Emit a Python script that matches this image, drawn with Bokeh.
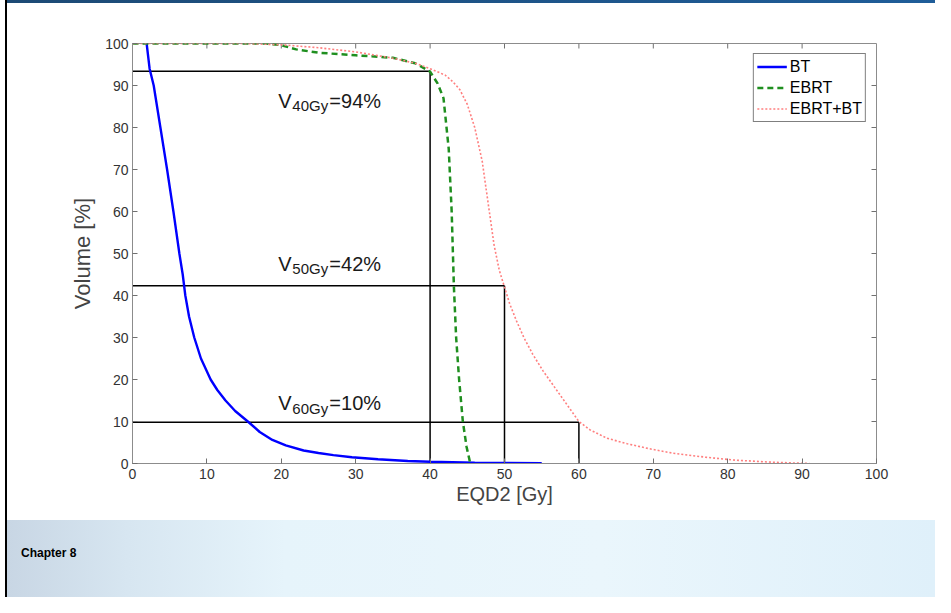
import numpy as np
from bokeh.plotting import figure
from bokeh.models import Range1d, FixedTicker, Legend, LegendItem, ColumnDataSource, Div
from bokeh.layouts import column, row
from bokeh.core.properties import value
from bokeh.embed import file_html
from bokeh.resources import INLINE

# ---- data ----
bt_dose = [1.9, 2.3, 2.85, 3.75, 4.65, 5.5, 6.3, 6.75, 7.1, 7.6, 8.3, 9.2, 10.5, 11.4, 12.5, 13.8, 15.5, 17.1, 18.8, 20.6, 23.0, 25.0, 27.0, 29.5, 33.0, 37.0, 40.0, 46.0, 55.0]
bt_vol = [100, 94, 90, 80, 70, 60, 50, 45, 40, 35, 30, 25, 20, 17.5, 15, 12.5, 10, 7.5, 5.6, 4.3, 3.1, 2.5, 2.0, 1.5, 1.0, 0.6, 0.4, 0.2, 0.1]

ebrt_dose = [0, 10, 18, 20, 22, 25, 30, 35, 38, 40, 41, 41.8, 42.5, 42.9, 43.2, 43.5, 43.9, 44.4, 44.9, 45.4]
ebrt_vol = [100, 100, 100, 99.6, 98.6, 97.8, 97.2, 96.6, 95.3, 93.3, 90.5, 87, 75, 60, 42, 30, 20, 10, 4, 0]

sum_dose = [0, 15, 20, 25, 30, 35, 38, 40, 42, 43, 44, 45, 46, 47, 47.8, 48.6, 49.3, 50, 50.7, 51.6, 52.6, 53.8, 55.2, 56.8, 58.4, 60.0, 61.5, 63.8, 66.5, 69.5, 72.5, 77, 81, 86, 91]
sum_vol = [100, 100, 99.7, 99, 98, 96.5, 95.3, 94, 92.5, 91, 89, 85.5, 80, 72, 62, 52, 46, 42, 38, 34, 30, 26, 22, 18, 14, 10, 8, 6, 4.7, 3.5, 2.5, 1.5, 0.8, 0.3, 0]

ref_dose = [40, 50, 60]
ref_vol = [93.4, 42.3, 9.8]
ref_pct = [94, 42, 10]

x_ticks = list(range(0, 101, 10))
y_ticks = list(range(0, 101, 10))

FONT = "Liberation Sans"

p = figure(width=928, height=517, x_range=Range1d(0, 100), y_range=Range1d(0, 100),
           output_backend="svg", toolbar_location=None,
           min_border_left=125, min_border_right=59, min_border_top=40, min_border_bottom=57)
p.grid.visible = False
p.outline_line_color = "#8c8c8c"
p.background_fill_color = "white"
p.border_fill_color = "white"

for ax in (p.xaxis[0], p.yaxis[0]):
    ax.major_tick_in = 5
    ax.major_tick_out = 0
    ax.minor_tick_line_color = None
    ax.axis_line_color = "#8c8c8c"
    ax.major_tick_line_color = "#707070"
    ax.major_label_text_font = FONT
    ax.major_label_text_font_size = "14px"
    ax.major_label_text_color = "#333333"
    ax.axis_label_text_font = FONT
    ax.axis_label_text_font_style = "normal"
    ax.axis_label_text_color = "#444444"

p.xaxis[0].ticker = FixedTicker(ticks=x_ticks)
p.yaxis[0].ticker = FixedTicker(ticks=y_ticks)
p.xaxis[0].axis_label = "EQD2 [Gy]"
p.yaxis[0].axis_label = "Volume [%]"
p.xaxis[0].axis_label_text_font_size = "20px"
p.yaxis[0].axis_label_text_font_size = "22px"
p.xaxis[0].major_label_standoff = 5
p.yaxis[0].major_label_standoff = 4
p.xaxis[0].axis_label_standoff = 1
p.yaxis[0].axis_label_standoff = 7

# inward ticks on the top and right edges of the box
inner_x = x_ticks[1:-1]
inner_y = y_ticks[1:-1]
p.ray(x=inner_x, y=[x_ticks[-1]] * len(inner_x), length=5, length_units="screen",
      angle=-np.pi / 2, line_color="#707070", line_width=1)
p.ray(x=[y_ticks[-1]] * len(inner_y), y=inner_y, length=5, length_units="screen",
      angle=np.pi, line_color="#707070", line_width=1)

# reference lines
p.segment(x0=[0] * len(ref_dose), y0=ref_vol, x1=ref_dose, y1=ref_vol, line_color="black", line_width=1.5)
p.segment(x0=ref_dose, y0=[0] * len(ref_dose), x1=ref_dose, y1=ref_vol, line_color="black", line_width=1.5)

r_bt = p.line(bt_dose, bt_vol, line_color="#0000ff", line_width=2.4)
r_ebrt = p.line(ebrt_dose, ebrt_vol, line_color="#1f8f1f", line_width=2.5, line_dash="6 4")
r_sum = p.line(sum_dose, sum_vol, line_color="#ff7f7f", line_width=1.6, line_dash="2 2")

# annotations V_xGy = y%
lab_x = [19.6, 19.6, 19.6]
lab_y = [86.4, 47.6, 14.4]
src = ColumnDataSource(dict(
    x=lab_x, y=lab_y,
    v=["V"] * 3,
    sub=[f"{d}Gy" for d in ref_dose],
    rest=[f"={v}%" for v in ref_pct],
))
p.text(x="x", y="y", text="v", source=src, text_font=value(FONT), text_font_size="20px",
       text_color="#1a1a1a", text_baseline="alphabetic", text_align="left")
p.text(x="x", y="y", text="sub", source=src, text_font=value(FONT), text_font_size="15px",
       text_color="#1a1a1a", text_baseline="alphabetic", text_align="left", x_offset=14, y_offset=5)
p.text(x="x", y="y", text="rest", source=src, text_font=value(FONT), text_font_size="20px",
       text_color="#1a1a1a", text_baseline="alphabetic", text_align="left", x_offset=51)

legend = Legend(items=[LegendItem(label="BT", renderers=[r_bt]),
                       LegendItem(label="EBRT", renderers=[r_ebrt]),
                       LegendItem(label="EBRT+BT", renderers=[r_sum])],
                location="top_right", margin=10, padding=3, spacing=2,
                glyph_width=30, glyph_height=19, label_height=19, label_standoff=3,
                label_text_font=FONT, label_text_font_size="16px", label_text_color="black",
                border_line_color="black", border_line_width=1, background_fill_color="white",
                background_fill_alpha=1)
p.add_layout(legend)

# slide decoration: top bar, left rule, bottom band with the chapter caption
top_bar = Div(width=928, height=3, margin=0,
              styles={"background": "linear-gradient(90deg, #1c4a75, #1f5d99)"})
band = Div(width=928, height=77, margin=0,
           text="<div style=\"padding:26px 0 0 14px;font:bold 12px 'Liberation Sans';color:black\">Chapter 8</div>",
           styles={"background": "linear-gradient(90deg, #c8d6e4 0%, #d7e6f1 13%, #e6f4fb 30%, #eaf6fc 64%, #dff0fa 100%)"})
left_pad = Div(width=5, height=597, margin=0, styles={"background": "white"})
left_rule = Div(width=2, height=597, margin=0, styles={"background": "black"})

layout = row(left_pad, left_rule, column(top_bar, p, band, spacing=0), spacing=0)
open("out.html", "w").write(file_html(layout, INLINE))
